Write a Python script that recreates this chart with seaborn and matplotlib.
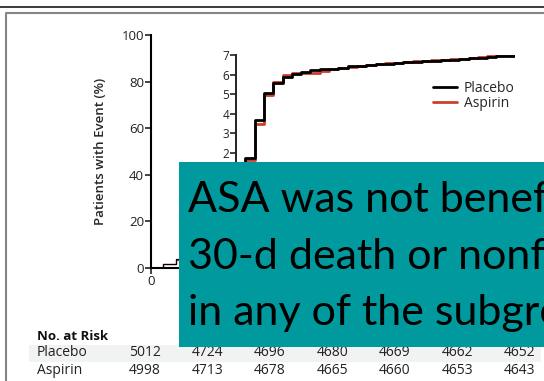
import pandas as pd
import seaborn as sns
import matplotlib.pyplot as plt
from matplotlib.patches import Rectangle
from matplotlib.lines import Line2D
from matplotlib.transforms import blended_transform_factory

# cumulative incidence (%), one value per day
days = list(range(31))
placebo = [0.0, 1.72, 3.68, 5.04, 5.59, 5.86, 6.01, 6.12, 6.23, 6.27, 6.31, 6.36,
           6.42, 6.46, 6.49, 6.52, 6.56, 6.59, 6.62, 6.66, 6.69, 6.71, 6.74, 6.77,
           6.80, 6.83, 6.86, 6.89, 6.93, 6.97, 7.00]
aspirin = [0.0, 1.64, 3.50, 4.96, 5.64, 5.98, 6.06, 6.06, 6.09, 6.20, 6.29, 6.34,
           6.40, 6.44, 6.48, 6.52, 6.57, 6.61, 6.64, 6.67, 6.70, 6.73, 6.76, 6.79,
           6.82, 6.86, 6.90, 6.94, 6.98, 7.02, 7.05]

risk_days = [0, 5, 10, 15, 20, 25, 30]
risk_placebo = [5012, 4724, 4696, 4680, 4669, 4662, 4652]
risk_aspirin = [4998, 4713, 4678, 4665, 4660, 4653, 4643]

groups = ["Placebo", "Aspirin"]
colors = {"Placebo": "#000000", "Aspirin": "#c8412b"}
banner_lines = ["ASA was not beneficial for",
                "30-d death or nonfatal MI",
                "in any of the subgroups"]

df = pd.DataFrame({
    "day": days * 2,
    "pct": placebo + aspirin,
    "group": ["Placebo"] * len(days) + ["Aspirin"] * len(days),
})

sns.set_style("ticks")
plt.rcParams["font.family"] = ["Open Sans", "DejaVu Sans"]

W, H = 544, 381
fig = plt.figure(figsize=(W / 100, H / 100), dpi=100)


def box(x0, y0, x1, y1):
    # pixel box (top-left origin) -> figure fraction rect
    return [x0 / W, 1 - y1 / H, (x1 - x0) / W, (y1 - y0) / H]


# main axes (only the part left of the banner is visible)
ax = fig.add_axes(box(151, 35, 520, 268))
sns.lineplot(data=df, x="day", y="pct", hue="group", hue_order=["Aspirin", "Placebo"],
             palette=colors, drawstyle="steps-post", linewidth=0.9,
             estimator=None, legend=False, ax=ax)
ax.set_xlim(0, 30)
ax.set_ylim(0, 100)
ax.set_yticks(range(0, 101, 20))
ax.set_xticks([0])
ax.set_xlabel("")
ax.set_ylabel("Patients with Event (%)", fontsize=9.5, fontweight="semibold")
ax.yaxis.set_label_coords(-0.12, 0.5)
sns.despine(ax=ax)
for s in ["left", "bottom"]:
    ax.spines[s].set_linewidth(1.5)
    ax.spines[s].set_color("black")
ax.tick_params(length=4, width=1.2, labelsize=9.5, pad=1, colors="#222222")

# inset
ax2 = fig.add_axes(box(236, 55, 515, 192.2))
sns.lineplot(data=df, x="day", y="pct", hue="group", hue_order=["Aspirin", "Placebo"],
             palette=colors, drawstyle="steps-post", linewidth=2.0,
             estimator=None, legend=False, ax=ax2)
ax2.set_xlim(0, 30)
ax2.set_ylim(0, 7)
ax2.set_yticks(range(2, 8))
ax2.set_xticks([])
ax2.set_xlabel("")
ax2.set_ylabel("")
ax2.patch.set_alpha(0)
sns.despine(ax=ax2)
for s in ["left", "bottom"]:
    ax2.spines[s].set_linewidth(1.4)
    ax2.spines[s].set_color("#222222")
ax2.tick_params(length=4, width=1.2, labelsize=8.5, pad=1, colors="#222222")

handles = [Line2D([], [], color=colors[g], lw=2) for g in groups]
fig.legend(handles, groups, loc="upper left", bbox_to_anchor=(433 / W, 1 - 81 / H),
           frameon=False, fontsize=10, handlelength=1.7, handletextpad=0.5,
           labelspacing=0.0, borderpad=0, borderaxespad=0)

# number at risk table
fig.add_artist(Rectangle((29 / W, 1 - 362 / H), (541 - 29) / W, 17 / H,
                         transform=fig.transFigure, color="#f1f2f2", lw=0, zorder=0))
fig.text(37 / W, 1 - 336 / H, "No. at Risk", fontsize=9.5, fontweight="bold",
         va="center", ha="left", color="#111111")
tab = fig.add_axes(box(145, 330, 520, 381))
tab.set_xlim(0, 30)
tab.axis("off")
row_tr = blended_transform_factory(tab.transData, fig.transFigure)
row_y = {"Placebo": 1 - 353 / H, "Aspirin": 1 - 371 / H}
for g, vals in zip(groups, [risk_placebo, risk_aspirin]):
    fig.text(37 / W, row_y[g], g, fontsize=10, va="center", ha="left", color="#222222")
    for d, v in zip(risk_days, vals):
        tab.text(d, row_y[g], str(v), fontsize=10, va="center", ha="center",
                 color="#222222", transform=row_tr)

# frame lines
fig.add_artist(Line2D([0, 1], [1 - 7 / H, 1 - 7 / H], transform=fig.transFigure,
                      color="#1a1a1a", lw=1.2))
fig.add_artist(Line2D([6 / W, 6 / W, 1], [0, 1 - 12.5 / H, 1 - 12.5 / H],
                      transform=fig.transFigure, color="#858585", lw=1.5))

# teal overlay banner
fig.add_artist(Rectangle((179 / W, 1 - 347 / H), (W - 179) / W, (347 - 162) / H,
                         transform=fig.transFigure, color="#00999d", lw=0, zorder=10))
for line, base in zip(banner_lines, [212, 269, 325]):
    fig.text(188 / W, 1 - base / H, line, fontsize=31, va="baseline", ha="left",
             family=["Lato", "DejaVu Sans"], color="black", zorder=11)

fig.savefig("out.png", dpi=100)
